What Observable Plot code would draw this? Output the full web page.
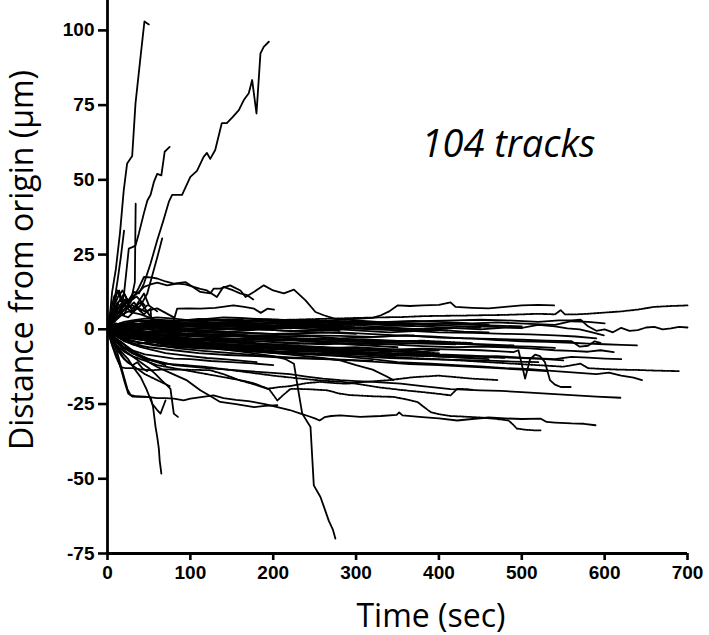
<!DOCTYPE html>
<html>
<head>
<meta charset="utf-8">
<script src="https://cdn.jsdelivr.net/npm/d3@7"></script>
<script src="https://cdn.jsdelivr.net/npm/@observablehq/plot@0.6"></script>
<style>
  html, body { margin: 0; padding: 0; background: #fff; }
  #chart { width: 709px; height: 635px; }
</style>
</head>
<body>
<div id="chart"></div>
<script>
// ---------- Chart values ----------
const xTicks = [0, 100, 200, 300, 400, 500, 600, 700];
const yTicks = [-75, -50, -25, 0, 25, 50, 75, 100];
const xTitle = "Time (sec)";
const yTitle = "Distance from origin (µm)";
const annotation = "104 tracks";

// each track: flat list of [time, distance, time, distance, ...]
const risingTracks = [
  [0,0, 3,5, 5.6,12.5, 10,20, 15,32, 19.6,46.5, 23.7,55.5, 29.8,58, 33.8,75.6, 39.8,91, 44.6,103, 49.9,102],
  [0,0, 6,3, 12,7, 20,8, 26,10, 31.8,12.5, 38,12, 44,15.3, 52,22, 60,29.8, 67,36, 74,42.6, 78,45, 90,45, 100,51, 108,53, 116,57.7, 120,59, 124,57, 130,60, 138,69, 144,69, 151,71, 158.5,73.3, 164.5,76.7, 170.5,79, 174.6,83.4, 179.8,72.2, 184.6,92.3, 188.6,94.5, 194.7,96.2],
  [0,0, 5,4, 10,7, 15,5, 20,12, 25.7,27, 30,27.5, 33.8,28, 37.8,32, 43.8,38.7, 48,43, 52,45, 56,49.3, 60,52, 65,51.5, 69,59.4, 75,61],
  [0,0, 6,5, 12,9, 18,6, 24,8, 28,9, 33,15.8, 34,42],
  [0,0, 4,3, 8,9, 12,16, 16,24, 20,33],
  [0,0, 8,3, 15,5, 25,4, 32,6, 40,8, 48,12, 54,18, 60,24, 66,30.4],
  [0,0, 5,4, 10,8, 16,6, 22,9, 30,10, 38,14, 44,17.5, 52,17.4, 60,17, 70,16, 80,15.3, 94,15.8, 104,14, 112,12.5, 124,12, 128,13.6, 136,13.6, 148,14.7, 160.5,13, 166.6,10.8, 176.6,12.5, 188.6,14.7, 200,13, 212.8,12, 225,13.3, 239,9.7, 251,5.8, 261,4.7, 275,3.5, 300,3, 330,2.4, 370,2.8, 400,2.5, 440,2, 470,2.3, 510,1.8, 540,1.5, 560,2.7, 580,2.5, 600,2],
  [0,0, 6,3, 12,6, 20,5, 25,8, 30,11, 36,12, 44,14.2, 52,15, 60,15.6, 72,14.7, 84,15.3, 94,15, 104,14.2, 112,13.5, 120,13, 132,10.8, 140,14.2, 152,13, 160,12, 168.6,11.4, 176,10],
  [0,0, 10,2, 25,1, 40,2, 60,2.5, 80,3, 84,6.9, 98,7, 112,6.9, 130,7.2, 152,8, 165,7.5, 177,6.9, 185,5.5, 193,6.9, 201,6.6],
  [0,0, 4,4, 8,8, 12,13, 16,10, 20,12, 25,9, 30,11],
  [0,0, 5,3, 10,7, 15,10, 20,8, 28,6, 36,7, 44,5, 52,6.9, 53,1.9, 60,2.5],
  [0,0, 3,5, 8,11, 14,13, 18,9, 24,7, 32,9, 40,6, 48,8]
];

const bandTracksSolid = [
  [0,0, 15,1, 30,2, 55,1.5, 80,1, 110,2, 150,2.5, 185,2, 220,3, 260,2.8, 300,3.5, 320,3.8, 330,4.7, 340,6, 350,8, 365,7.8, 380,8, 400,8.2, 414,9, 420,7.5, 440,7.2, 460,7, 480,7.5, 500,8, 520,8.2, 539,8],
  [0,0, 20,-0.5, 50,-1, 85,0, 120,0.5, 160,0.2, 200,1, 240,1.5, 280,2, 320,2.2, 350,2.5, 390,2.8, 420,3, 450,3.2, 480,3, 520,2.5, 545,3, 560,3, 571,3.2, 580,1, 590,-0.5, 600,0, 610,-1, 620,0.5, 630,-0.5, 640,-0.3, 650,0.6, 660,0.8, 670,0, 680,0.3, 690,0.8, 700,0.6],
  [0,0, 25,1.2, 60,1, 100,0.3, 140,0, 180,0.8, 220,1, 260,0.3, 300,0.5, 340,1.2, 380,1, 420,0.4, 450,0, 480,0.6, 500,0.5, 520,1.5, 540,1, 555,0.3, 570,0, 585,-1, 599,-2],
  [0,0, 20,-1, 50,-2, 90,-1.5, 130,-1, 170,-2, 200,-2.5, 240,-2.2, 280,-3, 320,-2.6, 360,-2, 400,-2.8, 440,-3, 470,-3.6, 500,-4, 530,-4.2, 560,-4.5, 580,-4.8, 600,-5, 620,-5.2, 639,-5.4],
  [0,0, 20,-2, 50,-4, 85,-5, 120,-6, 160,-7, 200,-8, 240,-8.4, 280,-9, 320,-10, 350,-11, 390,-11.5, 420,-12, 450,-12.4, 480,-13, 510,-13.3, 540,-14, 565,-14.5, 590,-15, 605,-14.5, 620,-15.5, 635,-16.2, 645,-17],
  [0,0, 25,-1.5, 60,-3, 100,-4, 140,-5, 180,-5.5, 220,-6, 260,-6.4, 300,-7, 340,-6.8, 380,-6.5, 420,-6.8, 450,-7, 475,-7.4, 490,-7.6, 496,-7, 504,-16.5, 510,-10, 516,-8.5, 522,-9, 528,-11, 534,-17, 540,-18.5, 547,-19.3, 559,-19.3],
  [0,0, 15,-0.5, 40,-1, 70,-2, 100,-3, 140,-3.5, 180,-4, 220,-4.5, 260,-5, 300,-4.6, 340,-5, 380,-5.6, 420,-6, 450,-5.8, 480,-6, 510,-6.4, 540,-7, 560,-7.2, 580,-7.5, 595,-7, 611,-7.6],
  [0,0, 30,-2, 70,-4, 110,-5, 150,-6, 190,-7, 230,-8, 270,-8.2, 310,-8.5, 350,-8.8, 390,-9, 430,-9.2, 470,-9, 505,-9.6, 540,-10, 560,-9.2, 580,-9.5, 600,-9.8, 620,-10],
  [0,0, 20,0.8, 50,0.5, 85,-0.5, 120,-1, 160,-1.2, 200,-1.5, 240,-1.2, 280,-1, 320,-1.6, 350,-2, 390,-2.4, 430,-3, 465,-3.2, 500,-3.5, 530,-3.8, 560,-4, 570,-5.8, 580,-5.5, 588,-4, 595,-4.5],
  [0,0, 25,1, 50,1.8, 80,2, 120,1.8, 160,1.5, 200,1.2, 240,1, 280,0.5, 320,0, 360,-0.4, 400,-1, 440,-1.2, 480,-1.5, 510,-1.7, 540,-2, 565,-2.4, 590,-3],
  [0,0, 20,1, 60,2, 100,2.5, 140,3, 180,2.6, 220,2, 260,2.4, 300,2.5, 340,2.2, 380,2, 410,1.8, 440,1.5, 470,1.2, 500,1],
  [0,0, 20,-1, 40,-2, 70,-2.8, 100,-3.5, 140,-3.2, 180,-3, 220,-3.5, 260,-4, 300,-4.2, 340,-4.5, 380,-4.8, 420,-5],
  [0,0, 20,-2, 45,-3.5, 70,-5, 110,-6, 150,-7, 185,-7.5, 220,-8, 260,-8.5, 300,-9, 340,-9.6, 380,-10, 420,-10.2, 460,-10.5, 490,-10.8, 520,-11],
  [0,0, 15,0.6, 30,1, 60,0.5, 90,0, 125,-0.5, 160,-1, 200,-1.6, 240,-2, 280,-2.2, 320,-2.5, 345,-2.2, 370,-2],
  [0,0, 25,-0.4, 60,-1, 100,-1.5, 140,-2, 175,-2.8, 210,-3.5, 250,-4.2, 290,-5, 320,-5.5, 350,-6],
  [0,0, 15,-3, 30,-5, 50,-6, 80,-7, 110,-8, 145,-8.6, 180,-9, 220,-9.6, 260,-10, 295,-10.4, 330,-11, 365,-11.6, 400,-12, 435,-12.5, 470,-13, 500,-13.5, 530,-14],
  [0,0, 15,-0.6, 30,-1, 55,-1.5, 80,-2, 110,-1.8, 140,-1.5, 170,-2, 200,-2, 230,-1.5, 260,-1, 280,-1.3, 300,-1.5],
  [0,0, 20,0.3, 40,0.5, 70,0.8, 100,1, 130,0.5, 160,0, 190,0.3, 220,0.5, 250,0, 280,-0.5],
  [0,0, 20,-1.5, 40,-3, 70,-3.5, 100,-4, 130,-5, 160,-6, 195,-6.5, 230,-7, 265,-7.5, 300,-8],
  [0,0, 10,3, 18,5, 25,6, 32,5.5, 40,5, 50,4, 60,3, 75,2.5, 90,2, 105,1.8, 120,1.5],
  [0,0, 10,-2, 20,-1.5, 30,-1, 45,-1.6, 60,-2, 80,-2.5, 100,-3, 125,-3.6, 150,-4],
  [0,0, 8,3, 15,5, 22,7, 30,8, 38,7, 45,6, 52,6.5, 60,7, 70,5.5, 80,4],
  [0,0, 5,3, 10,6, 15,8, 20,10, 25,8, 30,7, 35,8, 40,9, 45,7, 50,5, 55,3],
  [0,0, 4,4, 8,8, 13,11, 18,13, 22,11, 26,9, 30,10, 35,11, 40,9.5, 45,8],
  [0,0, 10,-2, 20,-4, 30,-5, 40,-6, 55,-7, 70,-8, 85,-8.5, 100,-9, 120,-9.6, 140,-10, 160,-10.5, 180,-11],
  [0,0, 10,1.5, 20,2.5, 30,3, 45,3.6, 60,4, 80,3.6, 100,3, 120,3.5, 140,4, 160,3.8, 180,3.5, 205,3.2, 230,3],
  [0,0, 10,-0.5, 20,-1, 35,0, 50,1, 65,0.5, 80,0, 95,-0.6, 110,-1],
  [0,0, 8,-1.5, 15,-3, 25,-4, 35,-5, 45,-4.5, 55,-4, 65,-5, 75,-6, 88,-5.5, 100,-5],
  [0,0, 5,2, 10,4, 16,7, 22,10, 26,8, 30,6, 37,9, 44,12, 47,10, 50,8, 55,7, 60,6],
  [0,0, 15,2, 28,1, 40,0.5, 55,1.2, 70,2, 90,1.6, 110,1, 135,1.5, 160,2, 185,1.6, 210,1, 235,1.4, 260,2],
  [0,0, 15,-1, 30,-2, 55,-3, 80,-4, 105,-3.6, 130,-3, 160,-4, 190,-5, 215,-5.5, 240,-6],
  [0,0, 20,-3, 40,-4.5, 60,-5.5, 90,-6, 120,-6.5, 150,-6.2, 180,-7, 210,-7.6, 240,-7.2, 270,-7.8, 300,-8.2, 330,-8, 360,-8.6, 390,-9, 430,-9.5, 460,-10],
  [0,0, 10,0.5, 30,-0.5, 50,0, 75,-0.8, 100,-0.5, 130,-1, 160,-0.5, 190,0, 220,-0.6, 250,-0.4, 280,0, 310,-0.5, 340,-1, 370,-0.6, 400,-0.2, 430,-0.8, 460,-1],
  [0,0, 15,-2, 35,-3, 60,-2.6, 90,-3.4, 120,-4.4, 150,-4, 180,-5, 210,-5.2, 240,-6, 270,-6.2, 300,-6, 330,-6.5, 360,-7, 380,-7.4, 400,-7],
  [0,0, 12,1, 25,2.2, 40,2.8, 60,3.2, 85,2.8, 110,3.5, 135,3.2, 160,2.6, 185,3, 210,2.4, 235,2.8, 260,2.6, 285,2.2, 310,2, 340,1.6, 370,1.2],
  [0,0, 10,-4, 20,-6, 30,-7, 45,-8.4, 60,-9, 80,-9.8, 100,-10, 125,-10.6, 150,-11, 175,-11.4, 200,-12],
  [0,0, 10,-3, 20,-5, 30,-8, 40,-9, 50,-10, 60,-11, 70,-12],
  [0,0, 6,-3, 12,-6, 18,-9, 24,-11, 30,-12, 36,-11, 42,-13, 48,-14],
  [0,0, 20,-1.2, 45,-2.4, 80,-3.2, 120,-3.8, 160,-4.6, 200,-5.2, 240,-5.6, 280,-6.2, 320,-6.8, 360,-7.6, 400,-8.4, 440,-8.8, 480,-9.4, 520,-9.8, 550,-10.4],
  [0,0, 15,0.4, 40,1.4, 75,1, 110,1.6, 150,2, 190,1.8, 230,2.2, 270,1.6, 310,1.4, 350,1.8, 390,1.4, 430,1, 470,0.8, 500,0.4],
  [0,0, 10,-1, 30,-2.6, 60,-4, 95,-4.8, 130,-5.4, 170,-6.2, 210,-6.8, 250,-7.4, 290,-7.6, 330,-8.2, 370,-8.6, 410,-9.2, 440,-9.6],
  [0,0, 20,-0.8, 50,-1.4, 90,-2.2, 130,-2.8, 170,-3.4, 210,-3.8, 250,-3.4, 290,-3.8, 330,-4.2, 370,-4, 410,-4.6, 450,-5, 490,-5.4],
  [0,0, 12,-2.5, 30,-4, 55,-5, 85,-6.4, 115,-7.2, 150,-8, 185,-8.8, 220,-9.4, 255,-9.8, 290,-10.2, 320,-10.6],
  [0,0, 15,1.6, 35,2.8, 60,2.4, 90,1.8, 120,2.2, 155,1.4, 190,0.8, 225,1.2, 260,0.6, 300,0.2, 340,0.6, 380,0, 410,-0.4],
  [0,0, 10,-1.6, 25,-3, 45,-3.6, 70,-4.4, 100,-5.2, 135,-5.8, 170,-5.4, 205,-6, 240,-6.6, 275,-7, 310,-7.2],
  [0,0, 20,-0.2, 45,-0.8, 70,-1.2, 100,-2, 135,-2.4, 170,-2.2, 205,-2.8, 240,-3.2, 275,-3.6, 310,-3.4, 345,-3.8, 380,-4.4, 415,-4.8, 450,-5.2, 480,-5.6, 510,-5.8, 540,-6.2]
];

const bandTracksDotted = [
  [0,0, 20,1, 40,1.5, 70,1.8, 100,2, 140,2.4, 180,3, 220,3.2, 260,3.5, 300,3.8, 330,4, 355,4.1, 380,4.4, 400,4.5, 430,4.6, 450,4.7, 475,4.8, 500,5, 520,5.2, 540,5, 547,6.4, 552,5, 565,5, 580,5.2, 600,5.6, 620,6, 640,6.6, 660,7.5, 680,7.8, 700,8],
  [0,0, 20,-1.5, 40,-2.5, 60,-3, 90,-4, 120,-4.6, 150,-5, 200,-6, 250,-7, 290,-8, 330,-9, 360,-9.5, 400,-10, 430,-10.5, 460,-11, 490,-11.5, 520,-12, 550,-12.5, 571,-11.5, 580,-13, 600,-13.3, 620,-13.5, 640,-13.6, 660,-13.8, 690,-14],
  [0,0, 20,0.6, 50,1, 85,1.2, 120,1.5, 160,1, 200,0.5, 240,0.8, 280,1, 320,0.5, 360,0, 400,0.3, 450,0.5],
  [0,0, 15,-1.5, 30,-2.5, 50,-3, 80,-4, 120,-5, 160,-5.6, 200,-6, 240,-6.6, 280,-7, 320,-7.2, 360,-7.5, 400,-8],
  [0,0, 15,1, 40,2, 70,2.5, 100,3, 135,3.2, 170,3.5, 205,3.2, 240,3, 275,2.8, 310,2.5],
  [0,0, 20,-1, 40,-1.8, 60,-2, 95,-3, 130,-4, 165,-4.6, 200,-5, 235,-4.8, 270,-4.5, 300,-4.8, 330,-5],
  [0,0, 10,1, 20,2, 35,1.5, 50,1, 70,0.5, 90,0, 115,0.6, 140,1, 170,0.5, 200,0],
  [0,0, 15,-1.5, 30,-3, 50,-4, 70,-5, 90,-5.6, 110,-6, 135,-6.4, 160,-7, 190,-7.4, 220,-8, 250,-8],
  [0,0, 10,0.5, 20,1, 32,0, 45,-1, 58,-0.4, 70,0],
  [0,0, 20,-0.5, 45,-1.2, 75,-1, 110,-1.6, 150,-2.2, 190,-2.6, 230,-3, 270,-3.2, 310,-3.6, 350,-4, 380,-3.8, 410,-4.2, 440,-4.6],
  [0,0, 15,0.3, 35,-0.2, 60,0.4, 90,0, 120,-0.4, 150,0.2, 180,0, 210,-0.4, 240,-0.6, 270,-0.3],
  [0,0, 20,-2, 50,-3.4, 90,-4.2, 130,-5, 170,-5.8, 210,-6.4, 250,-6.8, 290,-7.4, 330,-7.8, 370,-8.2, 410,-8.8, 450,-9.2, 480,-9.6],
  [0,0, 25,1.2, 60,1.6, 100,1.2, 140,0.8, 180,1.2, 220,1.6, 260,1.2, 300,1.6, 340,2, 380,1.6, 420,2, 460,1.6]
];

const fallingTracksSolid = [
  [0,0, 20,-1, 40,-2, 65,-3.5, 90,-5, 120,-6, 150,-7, 175,-8, 200,-9, 215,-10, 225,-11.5, 230,-20, 235,-28.2, 245,-32.7, 249,-52.2, 257,-56.1, 262,-60, 267,-64, 272,-67, 275,-70],
  [0,0, 2,-1, 4,-2.6, 8,-5, 12,-8, 16,-12, 20,-16, 24,-20, 28,-22, 35,-22.4, 45,-22.5, 52,-22.7, 55,-26, 58,-32.7, 60,-36, 62,-40, 63,-44, 65,-48.3],
  [0,0, 3,-3, 6,-5, 10,-8, 15,-12, 20,-17, 25,-21.5, 30,-22.5, 40,-22.6, 50,-22.7, 60,-23, 70,-23, 80,-23.2, 92,-23.8, 100,-23.2, 115,-22.6, 128,-22.1, 140,-23, 155,-23.6, 170,-24, 190,-25, 205,-26, 220,-27, 233,-28.2, 242,-29, 251,-29.9, 256,-30.5, 262,-29.4, 270,-29, 281,-28.8, 305,-29.3, 330,-29, 349,-28.6, 352,-27.8, 356,-28.8, 380,-29.4, 400,-29.8, 422,-30.5, 440,-30, 460,-29.5, 480,-29.8, 500,-30, 523,-29.9, 530,-31, 540,-31.2, 560,-31.5, 575,-31.6, 589,-32.1],
  [0,0, 10,-3, 20,-5, 30,-7, 40,-9, 50,-11, 60,-12.6, 75,-14.5, 96,-17.1, 112,-20.4, 125,-22.5, 136,-24.3, 155,-25, 177,-26, 190,-25.6, 205,-25.4],
  [0,0, 5,-2, 10,-5, 18,-8, 25,-10, 32,-13, 40,-16, 47,-20, 54,-24.9, 60,-27, 64,-28.2, 67,-26, 70,-23.8],
  [0,0, 5,-2, 10,-4, 20,-7, 30,-9, 40,-11, 50,-13, 58,-15, 65,-17, 71,-18.5, 76,-19.9, 78,-24, 80,-28.2, 85,-29.3],
  [0,0, 10,-3, 20,-6, 35,-8, 50,-10, 65,-11, 80,-12, 100,-12.5, 120,-13, 145,-13.5, 170,-14, 195,-14.5, 220,-15, 240,-15.8, 260,-16.5, 281,-17, 300,-17.3, 320,-17.6, 354,-18.2, 380,-19, 400,-19.6, 414,-20, 430,-20.2, 450,-20.4, 475,-20.6, 500,-21, 530,-21.5, 560,-22, 590,-22.5, 619,-22.9],
  [0,0, 30,-2, 70,-4, 120,-5.5, 170,-7, 220,-8.5, 260,-9.6, 281,-10.4, 300,-12, 320,-13.5, 337,-15.8, 345,-17]
];

const fallingTracksDotted = [
  [0,0, 2,-2, 5,-5, 10,-9, 15.7,-12.6, 22,-13, 30,-13, 40,-13.4, 52,-13.7, 70,-13.4, 90,-13.5, 110,-13.6, 124,-13.7, 140,-15, 160,-17.1, 178,-18.5, 193,-19.9, 205,-19.4, 220,-19, 240,-18, 257,-17.6, 275,-18, 289,-18.2, 310,-17.6, 340,-17, 370,-16, 400,-15.5, 420,-16, 440,-16.5, 460,-16.8, 472,-17],
  [0,0, 4,-3, 10,-5, 20,-7.5, 30,-9, 45,-10.5, 60,-12, 80,-13, 100,-14, 120,-15, 140,-16, 160,-17, 176,-18, 195,-20, 205,-23.8, 212,-22, 221,-19.9, 240,-20, 265,-20.4, 280,-21.5, 293,-22, 320,-22.4, 345,-22.6, 360,-23.4, 374,-24.3, 382,-26, 390,-27.7, 400,-28.4, 414,-29, 430,-29.2, 450,-29.5, 470,-30, 484,-30.5, 490,-32, 494,-33.2, 505,-33.6, 515,-33.8, 524,-33.8],
  [0,0, 8,-3, 18,-6, 30,-8, 45,-10, 70,-11.5, 95,-12, 120,-12.6, 145,-13.5, 170,-14.4, 200,-15.5, 230,-16.4, 260,-17.2, 281,-17.5, 305,-18.4, 330,-19.5, 355,-20.3, 380,-21, 400,-21.6, 414,-22.1, 418,-21, 422,-19.9, 432,-20, 440,-20.2],
  [0,0, 6,-4, 12,-7, 20,-10, 30,-12, 45,-15, 60,-17, 75,-19]
];

// ---------- build rows ----------
function rowsFrom(groups, prefix) {
  const rows = [];
  groups.forEach((arr, i) => {
    for (let k = 0; k < arr.length; k += 2) rows.push({id: prefix + i, t: arr[k], y: arr[k + 1]});
  });
  return rows;
}
const solidRows = [
  ...rowsFrom(risingTracks, "r"),
  ...rowsFrom(bandTracksSolid, "b"),
  ...rowsFrom(fallingTracksSolid, "f")
];
const dottedRows = [
  ...rowsFrom(bandTracksDotted, "bd"),
  ...rowsFrom(fallingTracksDotted, "fd")
];

const tickFont = {fontFamily: "'Liberation Sans', Arial, sans-serif", fontSize: 19, fontWeight: "bold"};

const chart = Plot.plot({
  width: 709,
  height: 635,
  marginLeft: 107,
  marginRight: 22,
  marginTop: 0,
  marginBottom: 82,
  style: {background: "#fff", color: "#000"},
  x: {domain: [0, 700]},
  y: {domain: [-75, 110]},
  marks: [
    Plot.line(solidRows, {x: "t", y: "y", z: "id", stroke: "#000", strokeWidth: 1.8, strokeLinejoin: "round"}),
    Plot.line(dottedRows, {x: "t", y: "y", z: "id", stroke: "#000", strokeWidth: 1.8, strokeDasharray: "2,1.2"}),
    Plot.ruleX([0], {stroke: "#000", strokeWidth: 2.8}),
    Plot.ruleY([-75], {stroke: "#000", strokeWidth: 2.8}),
    Plot.axisX({ticks: xTicks, tickSize: 7, tickPadding: 5, strokeWidth: 2.6, label: null, tickFormat: d => String(d), ...tickFont}),
    Plot.axisY({ticks: yTicks, tickSize: 9, tickPadding: 4, strokeWidth: 2.6, label: null, tickFormat: d => String(d), ...tickFont}),
    Plot.text([annotation], {x: () => 484, y: () => 57.5, text: d => d, fontFamily: "'Open Sans', sans-serif", fontStyle: "italic", fontWeight: "normal", fontSize: 38, textAnchor: "middle", lineAnchor: "bottom"})
  ]
});

document.getElementById("chart").appendChild(chart);

const svg = d3.select(chart);
svg.append("text")
  .attr("x", 431).attr("y", 627)
  .attr("text-anchor", "middle")
  .attr("font-family", "'Open Sans', sans-serif")
  .attr("font-weight", "normal")
  .attr("font-size", 32)
  .attr("fill", "#000")
  .text(xTitle);
svg.append("text")
  .attr("transform", "translate(33,260) rotate(-90)")
  .attr("text-anchor", "middle")
  .attr("font-family", "'Open Sans', sans-serif")
  .attr("font-weight", "normal")
  .attr("font-size", 32)
  .attr("fill", "#000")
  .text(yTitle);
</script>
</body>
</html>
